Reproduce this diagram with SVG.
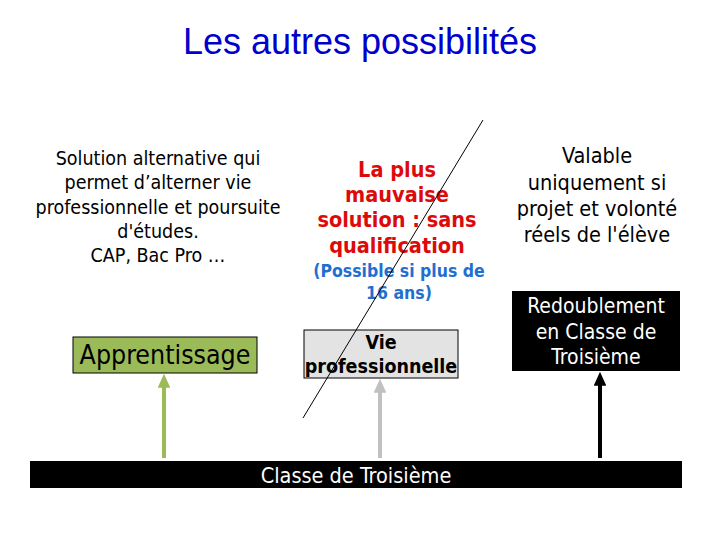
<svg xmlns="http://www.w3.org/2000/svg" width="720" height="540" viewBox="0 0 720 540">
<style>
.t{font-family:"DejaVu Sans Condensed","DejaVu Sans",sans-serif;text-anchor:middle}
.title{font-family:"Liberation Sans",Arial,sans-serif;font-size:36px;fill:#0000cc;text-anchor:middle}
.b{font-weight:bold}
</style>
<defs>
<marker id="ag" markerWidth="3.5" markerHeight="3.2" refX="0.2" refY="1.6" orient="auto" markerUnits="strokeWidth"><path d="M0,0 L3.5,1.6 L0,3.2 z" fill="#9bbb59"/></marker>
<marker id="ay" markerWidth="3.5" markerHeight="3.2" refX="0.2" refY="1.6" orient="auto" markerUnits="strokeWidth"><path d="M0,0 L3.5,1.6 L0,3.2 z" fill="#c0c0c0"/></marker>
<marker id="ak" markerWidth="3.5" markerHeight="3.2" refX="0.2" refY="1.6" orient="auto" markerUnits="strokeWidth"><path d="M0,0 L3.5,1.6 L0,3.2 z" fill="#000"/></marker>
</defs>
<rect width="720" height="540" fill="#fff"/>
<text class="title" x="360" y="54">Les autres possibilités</text>

<g id="left-text" class="t" font-size="19.5" fill="#000">
<text x="158" y="165">Solution alternative qui</text>
<text x="158" y="189">permet d’alterner vie</text>
<text x="158" y="214">professionnelle et poursuite</text>
<text x="158" y="238">d'études.</text>
<text x="158" y="262">CAP, Bac Pro …</text>
</g>

<g id="middle-text" class="t b">
<text x="397" y="177" font-size="21.5" fill="#dd0a0a">La plus</text>
<text x="397" y="202" font-size="21.5" fill="#dd0a0a">mauvaise</text>
<text x="397" y="227" font-size="21.5" fill="#dd0a0a">solution : sans</text>
<text x="397" y="253" font-size="21.5" fill="#dd0a0a">qualification</text>
<text x="399" y="277" font-size="17.5" fill="#1f6fd0">(Possible si plus de</text>
<text x="399" y="299" font-size="17.5" fill="#1f6fd0">16 ans)</text>
</g>

<g id="right-text" class="t" font-size="21.5" fill="#000">
<text x="597" y="163">Valable</text>
<text x="597" y="190">uniquement si</text>
<text x="597" y="216">projet et volonté</text>
<text x="597" y="242">réels de l'élève</text>
</g>

<g id="connectors" fill="none" stroke-width="4">
<line x1="164" y1="458" x2="164" y2="387" stroke="#9bbb59" marker-end="url(#ag)"/>
<line x1="380" y1="458" x2="380" y2="392" stroke="#c0c0c0" marker-end="url(#ay)"/>
<line x1="600" y1="458" x2="600" y2="385" stroke="#000" marker-end="url(#ak)"/>
</g>

<g id="apprentissage">
<rect x="73" y="337" width="184" height="36" fill="#9bbb59" stroke="#000" stroke-width="1"/>
<text class="t" x="165" y="364" font-size="26.5" fill="#000">Apprentissage</text>
</g>

<g id="vie-pro">
<rect x="304" y="330" width="154" height="48" fill="#e3e3e3" stroke="#000" stroke-width="1"/>
<text class="t b" x="381" y="349" font-size="19.5" fill="#000">Vie</text>
<text class="t b" x="381" y="373" font-size="19.5" fill="#000">professionnelle</text>
</g>

<g id="redoublement">
<rect x="512" y="291" width="168" height="80" fill="#000"/>
<text class="t" x="596" y="313" font-size="21" fill="#fff">Redoublement</text>
<text class="t" x="596" y="339" font-size="21" fill="#fff">en Classe de</text>
<text class="t" x="596" y="364" font-size="21" fill="#fff">Troisième</text>
</g>

<g id="classe-troisieme">
<rect x="30" y="461" width="652" height="27" fill="#000"/>
<text class="t" x="356" y="483" font-size="21.5" fill="#fff">Classe de Troisième</text>
</g>

<line id="strike" x1="483" y1="120" x2="303" y2="418" stroke="#000" stroke-width="1"/>
</svg>
